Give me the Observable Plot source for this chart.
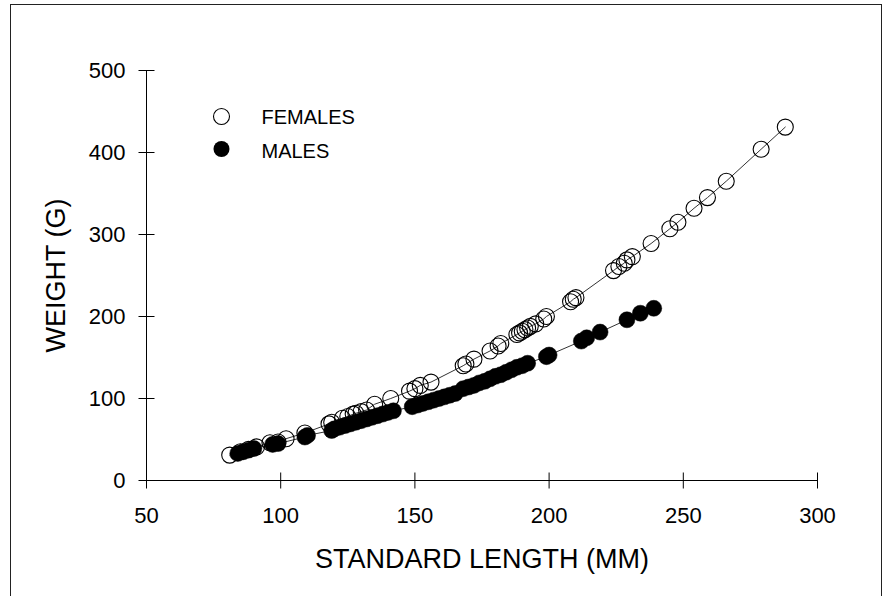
<!DOCTYPE html>
<html><head><meta charset="utf-8">
<script src="https://cdn.jsdelivr.net/npm/d3@7"></script>
<script src="https://cdn.jsdelivr.net/npm/@observablehq/plot@0.6"></script>
<style>
html,body{margin:0;padding:0;background:#fff;}
#wrap{position:relative;width:885px;height:596px;overflow:hidden;}
#frame{position:absolute;left:10px;top:4px;width:872px;height:640px;border:1px solid #222;box-sizing:border-box;pointer-events:none;}
#wrap svg{position:absolute;left:0;top:0;}
</style></head><body><div id="wrap"><div id="frame"></div></div>
<script>
// Data
const femaleLength = [81,85,88,91,96,99,102,109,118,119,123,125,127,128,130,132,135,141,148,150,152,156,168,169,172,178,181,182,188,189,190,191,192,193,195,198,199,208,209,210,224,226,228,229,231,238,245,248,254,259,266,279,288];
const femaleWeight = [31,35,38,41,46,47,51,58,69,71,76,78,81,82,84,86,93,100,109,112,116,120,140,142,148,158,164,167,178,180,182,184,186,188,191,197,200,218,221,223,256,261,265,269,273,289,307,315,332,345,365,404,431];
const maleLength = [84,86,88,90,97,99,109,110,119,120,122,124,126,128,130,132,134,136,138,140,142,149,151,153,155,157,159,161,163,165,168,170,172,174,176,178,180,182,184,186,188,190,192,199,200,212,214,219,229,234,239];
const maleWeight = [33,35,37,39,44,45,53,55,61,63,65,67,69,71,73,75,77,79,81,83,85,90,92,94,96,98,100,102,104,106,112,114,116,119,121,124,127,129,132,135,138,140,143,151,153,170,174,181,196,204,210];
const xTicks = [50,100,150,200,250,300];
const yTicks = [0,100,200,300,400,500];
const legendLabels = ["FEMALES","MALES"];
const xTitle = "STANDARD LENGTH (MM)";
const yTitle = "WEIGHT (G)";

const females = femaleLength.map((x,i)=>({x, y: femaleWeight[i]}));
const males = maleLength.map((x,i)=>({x, y: maleWeight[i]}));

const vTick = {draw(ctx){ctx.moveTo(0,-8);ctx.lineTo(0,8);}};
const hTick = {draw(ctx){ctx.moveTo(-8,0);ctx.lineTo(8,0);}};

const chart = Plot.plot({
  width: 885, height: 596,
  marginLeft: 146, marginRight: 68, marginTop: 70, marginBottom: 116,
  x: {domain: [50,300]},
  y: {domain: [0,500]},
  style: {fontFamily: "'Liberation Sans', Arial, sans-serif", background: "transparent", color: "black"},
  marks: [
    // axis lines
    Plot.ruleY([0], {x1: xTicks[0], x2: xTicks[xTicks.length-1], stroke: "black", strokeWidth: 1}),
    Plot.ruleX([xTicks[0]], {y1: yTicks[0], y2: yTicks[yTicks.length-1], stroke: "black", strokeWidth: 1}),
    // crossing ticks
    Plot.dot(xTicks, {x: d=>d, y: ()=>yTicks[0], symbol: vTick, stroke: "black", fill: "none", strokeWidth: 1}),
    Plot.dot(yTicks, {x: ()=>xTicks[0], y: d=>d, symbol: hTick, stroke: "black", fill: "none", strokeWidth: 1}),
    // tick labels
    Plot.axisX({ticks: xTicks, tickSize: 0, tickPadding: 27, fontSize: 22, label: null}),
    Plot.axisY({ticks: yTicks, tickSize: 0, tickPadding: 21, fontSize: 22, label: null}),
    // titles
    Plot.text([xTitle], {text: d=>d, frameAnchor: "bottom", lineAnchor: "top", dy: 68, fontSize: 27, fill: "black"}),
    Plot.text([yTitle], {text: d=>d, frameAnchor: "left", rotate: -90, lineAnchor: "middle", textAnchor: "middle", dx: -90, fontSize: 27, fill: "black"}),
    // fitted lines through the data
    Plot.line(females, {x: "x", y: "y", stroke: "#333", strokeWidth: 1}),
    Plot.line(males, {x: "x", y: "y", stroke: "#333", strokeWidth: 1}),
    // points
    Plot.dot(females, {x: "x", y: "y", r: 8, stroke: "black", fill: "none", strokeWidth: 1.1}),
    Plot.dot(males, {x: "x", y: "y", r: 8, fill: "black", stroke: "black", strokeWidth: 0.5}),
    // legend
    Plot.dot([legendLabels[0]], {frameAnchor: "top-left", dx: 75, dy: 46, r: 8, stroke: "black", fill: "none", strokeWidth: 1.1}),
    Plot.dot([legendLabels[1]], {frameAnchor: "top-left", dx: 75, dy: 78.5, r: 8, fill: "black"}),
    Plot.text([legendLabels[0]], {text: d=>d, frameAnchor: "top-left", dx: 115, dy: 47.3, textAnchor: "start", lineAnchor: "middle", fontSize: 20, fill: "black"}),
    Plot.text([legendLabels[1]], {text: d=>d, frameAnchor: "top-left", dx: 115, dy: 81, textAnchor: "start", lineAnchor: "middle", fontSize: 20, fill: "black"})
  ]
});
document.getElementById("wrap").prepend(chart);
</script>
</body></html>
